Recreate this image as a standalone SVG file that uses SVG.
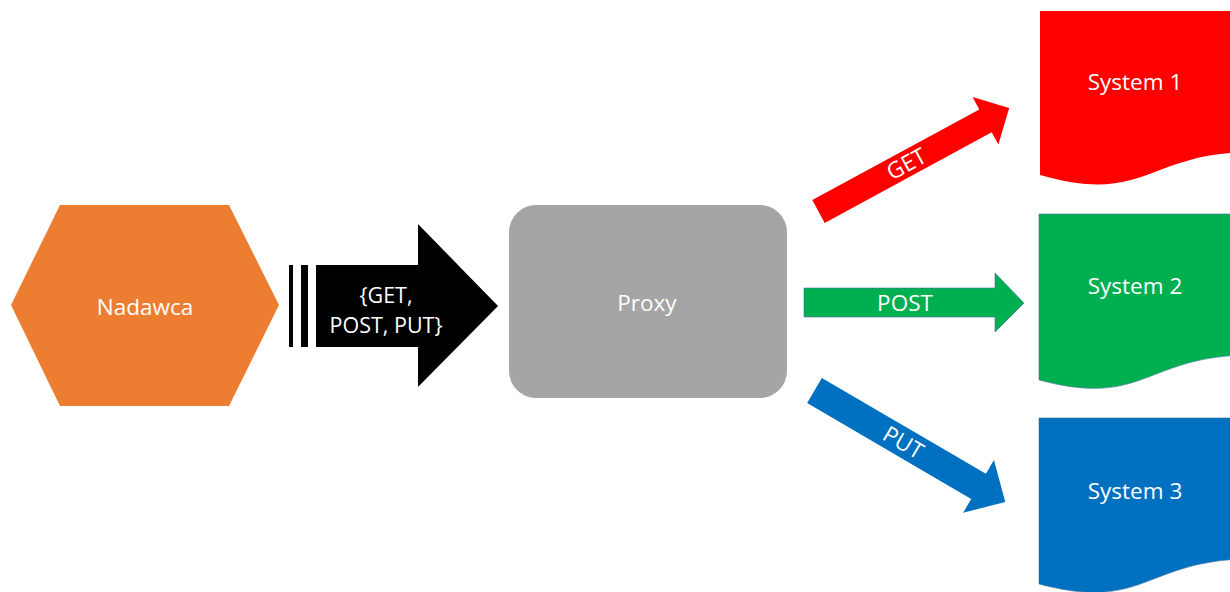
<svg xmlns="http://www.w3.org/2000/svg" width="1230" height="592" viewBox="0 0 1230 592">
<style>
  .lbl { font-family: "Open Sans", "Noto Sans", sans-serif; font-size: 22.5px; fill: #ffffff; text-anchor: middle; }
  .req { font-size: 21.5px; }
</style>
<rect width="1230" height="592" fill="#ffffff"/>
<g id="nadawca">
  <polygon points="11,305 60,205 229,205 279,305 229,406 60,406" fill="#ed7d31"/>
  <text class="lbl" x="145" y="315">Nadawca</text>
</g>
<g id="proxy">
  <rect x="509" y="205" width="278" height="193" rx="27" ry="27" fill="#a5a5a5"/>
  <text class="lbl" x="647" y="311">Proxy</text>
</g>
<g id="system1">
  <path d="M1040,11 L1253,11 L1253,152 C1146.5,152 1146.5,205.5 1040,175 Z" fill="#ff0000"/>
  <text class="lbl" x="1135" y="90">System 1</text>
</g>
<g id="system2">
  <path d="M1039,214 L1252,214 L1252,355 C1145.5,355 1145.5,408.5 1039,380 Z" fill="#00b050" stroke="#41719c" stroke-width="0.6"/>
  <text class="lbl" x="1135" y="294">System 2</text>
</g>
<g id="system3">
  <path d="M1039,418 L1252,418 L1252,559 C1145.5,559 1145.5,612.5 1039,584 Z" fill="#0070c0" stroke="#41719c" stroke-width="0.6"/>
  <text class="lbl" x="1135" y="499">System 3</text>
</g>
<g id="connectors">
  <g id="request-arrow">
    <rect x="289" y="265" width="4" height="82" fill="#000000"/>
    <rect x="301" y="265" width="7" height="82" fill="#000000"/>
    <polygon points="316,265 418,265 418,224 498,306 418,387 418,347 316,347" fill="#000000"/>
    <text class="lbl req" x="386" y="303">{GET,</text>
    <text class="lbl req" x="386" y="333">POST, PUT}</text>
  </g>
  <g id="get-arrow" transform="translate(818.5,211.5) rotate(-28.5)">
    <polygon points="0,-13 190,-13 190,-27 217,0 190,27 190,13 0,13" fill="#ff0000"/>
    <text class="lbl" x="100" y="8">GET</text>
  </g>
  <g id="post-arrow">
    <polygon points="804,288 995,288 995,273 1024,303 995,332 995,317 804,317" fill="#00b050" stroke="#41719c" stroke-width="0.6"/>
    <text class="lbl" x="905" y="311">POST</text>
  </g>
  <g id="put-arrow" transform="translate(814.5,390.5) rotate(30.3)">
    <polygon points="0,-14.6 190,-14.6 190,-30.5 221,0 190,30.5 190,14.6 0,14.6" fill="#0070c0"/>
    <text class="lbl" x="103" y="8">PUT</text>
  </g>
</g>
</svg>
